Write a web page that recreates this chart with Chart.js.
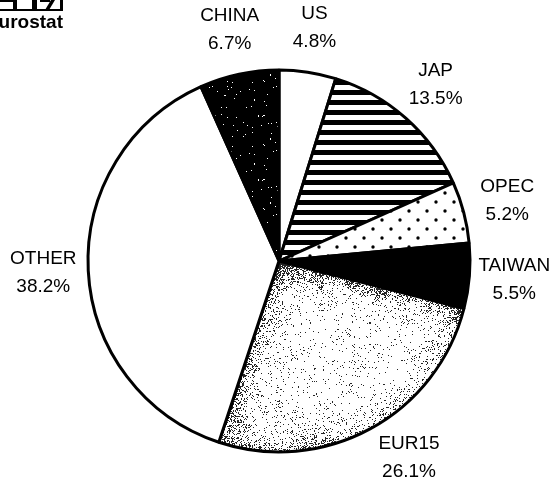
<!DOCTYPE html>
<html>
<head>
<meta charset="utf-8">
<title>Imports by partner</title>
<script src="https://cdn.jsdelivr.net/npm/chart.js@4.4.1/dist/chart.umd.min.js"></script>
<style>
  html, body { margin: 0; padding: 0; background: #fff; }
  #wrap { width: 558px; height: 486px; }
</style>
</head>
<body>
<div id="wrap"><canvas id="pie" width="558" height="486"></canvas></div>
<script>
// --- DATA ---
const partners = ['US', 'JAP', 'OPEC', 'TAIWAN', 'EUR15', 'OTHER', 'CHINA'];
const shares = [4.8, 13.5, 5.2, 5.5, 26.1, 38.2, 6.7];

// --- TEXTURES ---
// small LCG so the speckle textures come out the same on every load
function makeRand(seed) {
    let s = seed >>> 0;
    return () => { s = (s * 1664525 + 1013904223) >>> 0; return s / 4294967296; };
}

// cheap value noise, used to make the EUR15 grain patchy
function makeNoise(seed, cell) {
    const rand = makeRand(seed);
    const grid = [];
    for (let i = 0; i < 64 * 64; i++) grid.push(rand());
    const at = (i, j) => grid[((j & 63) * 64) + (i & 63)];
    return (x, y) => {
        const fx = x / cell, fy = y / cell;
        const i = Math.floor(fx), j = Math.floor(fy);
        const u = fx - i, v = fy - j;
        const a = at(i, j) * (1 - u) + at(i + 1, j) * u;
        const b = at(i, j + 1) * (1 - u) + at(i + 1, j + 1) * u;
        return a * (1 - v) + b * v;
    };
}

function tile(w, h, paint) {
    const c = document.createElement('canvas');
    c.width = w; c.height = h;
    const g = c.getContext('2d');
    g.fillStyle = '#fff';
    g.fillRect(0, 0, w, h);
    paint(g);
    return g.createPattern(c, 'repeat');
}

const stripes = tile(16, 10, g => { g.fillStyle = '#000'; g.fillRect(0, 0, 16, 5); });

const dots = tile(18, 18, g => {
    g.fillStyle = '#000';
    [[4, 4], [13, 13]].forEach(([x, y]) => { g.beginPath(); g.arc(x, y, 1.7, 0, Math.PI * 2); g.fill(); });
});

const darkGrain = tile(64, 64, g => {
    const rand = makeRand(31);
    g.fillStyle = '#000';
    g.fillRect(0, 0, 64, 64);
    g.fillStyle = '#fff';
    for (let i = 0; i < 55; i++) g.fillRect(Math.floor(rand() * 64), Math.floor(rand() * 64), 1, 1);
});

const fillFor = {
    US: '#fff', JAP: stripes, OPEC: dots, TAIWAN: '#000',
    EUR15: '#fff', OTHER: '#fff', CHINA: darkGrain
};

// a couple of labels sit a little off the slice's mid-angle
const labelNudge = { EUR15: [17, -10] };

// --- PLUGINS ---
// EUR15 gets a halftone-like grain that is heavy along its edges and thin in the middle
const edgeGrain = {
    id: 'edgeGrain',
    afterDatasetsDraw(chart) {
        const arc = chart.getDatasetMeta(0).data[partners.indexOf('EUR15')];
        const { x, y, startAngle, endAngle, outerRadius: r } =
            arc.getProps(['x', 'y', 'startAngle', 'endAngle', 'outerRadius'], true);
        const c = chart.ctx;
        const rand = makeRand(7);
        const noise = makeNoise(11, 14);
        c.save();
        c.beginPath();
        c.moveTo(x, y);
        c.arc(x, y, r, startAngle, endAngle);
        c.closePath();
        c.clip();
        c.fillStyle = 'rgba(0,0,0,0.85)';
        for (let py = Math.floor(y); py < y + r; py++) {
            for (let px = Math.floor(x - r); px < x + r; px++) {
                const dx = px - x, dy = py - y;
                const d = Math.hypot(dx, dy);
                if (d > r) continue;
                let a = Math.atan2(dy, dx);
                if (a < -Math.PI / 2) a += Math.PI * 2;
                if (a < startAngle || a > endAngle) continue;
                const s1 = a - startAngle, s2 = endAngle - a;
                const e1 = s1 < Math.PI / 2 ? d * Math.sin(s1) : d;
                const e2 = s2 < Math.PI / 2 ? d * Math.sin(s2) : d;
                const n = noise(px, py);
                let p = 0.015 + 0.08 * n * n;
                p += 0.55 * Math.exp(-e1 / 9) * (0.5 + n);
                p += 0.45 * Math.exp(-e2 / 11) * (0.4 + n);
                p += 0.4 * Math.exp(-(r - d) / 9) * (0.2 + n) * (dx < 60 ? 1.2 : 0.6);
                if (rand() < p) c.fillRect(px, py, 1, 1);
            }
        }
        c.restore();
    }
};

const sliceLabels = {
    id: 'sliceLabels',
    afterDraw(chart) {
        const meta = chart.getDatasetMeta(0);
        const c = chart.ctx;
        c.save();
        c.font = '19px "Liberation Sans", Arial, sans-serif';
        c.fillStyle = '#000';
        c.textAlign = 'center';
        c.textBaseline = 'middle';
        meta.data.forEach((arc, i) => {
            const { x, y, startAngle, endAngle, outerRadius } =
                arc.getProps(['x', 'y', 'startAngle', 'endAngle', 'outerRadius'], true);
            const mid = (startAngle + endAngle) / 2;
            const d = outerRadius + 45;
            const [nx, ny] = labelNudge[partners[i]] || [0, 0];
            const lx = x + Math.cos(mid) * d + nx;
            const ly = y + Math.sin(mid) * d + ny;
            c.fillText(partners[i], lx, ly - 14);
            c.fillText(shares[i].toFixed(1) + '%', lx, ly + 14);
        });
        c.restore();
    }
};

// cropped Eurostat logo in the top-left corner
const logo = {
    id: 'logo',
    afterDraw(chart) {
        const c = chart.ctx;
        c.save();
        c.fillStyle = '#000';
        c.fillRect(0, 0, 14, 2);
        c.fillRect(13, 0, 4, 10);
        c.fillRect(32, 0, 5, 10);
        c.fillRect(40, 0, 10, 2);
        c.beginPath();
        c.moveTo(51, 0); c.lineTo(55, 0); c.lineTo(49, 10); c.lineTo(45, 10);
        c.fill();
        c.fillRect(60, 0, 3, 10);
        c.fillRect(0, 9, 63, 2);
        c.font = 'bold 19px "Liberation Sans", Arial, sans-serif';
        c.textAlign = 'right';
        c.textBaseline = 'alphabetic';
        c.fillText('Eurostat', 63, 28);
        c.restore();
    }
};

// --- CHART ---
new Chart(document.getElementById('pie'), {
    type: 'pie',
    data: {
        labels: partners,
        datasets: [{
            data: shares,
            backgroundColor: partners.map(p => fillFor[p]),
            borderColor: '#000',
            borderWidth: 3
        }]
    },
    options: {
        responsive: false,
        animation: false,
        radius: 191,
        layout: { padding: { top: 36 } },
        plugins: { legend: { display: false }, tooltip: { enabled: false } }
    },
    plugins: [edgeGrain, sliceLabels, logo]
});
</script>
</body>
</html>
